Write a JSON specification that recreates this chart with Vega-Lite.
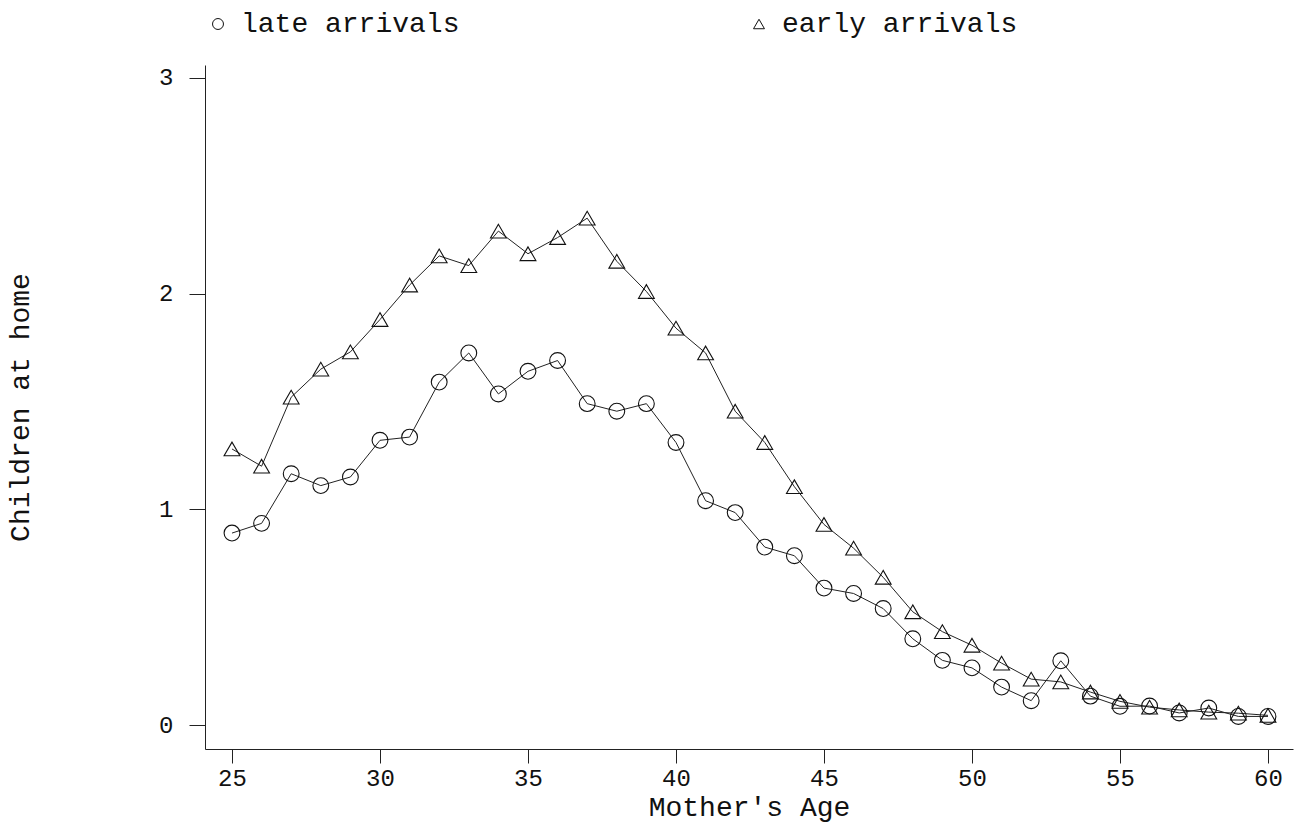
{
  "$schema": "https://vega.github.io/schema/vega-lite/v6.json",
  "autosize": "none",
  "width": 1088,
  "height": 684,
  "padding": {"left": 205, "top": 65, "right": 6, "bottom": 75},
  "background": "white",
  "config": {
    "view": {"stroke": null},
    "font": "Liberation Mono",
    "axis": {
      "domainColor": "#222",
      "tickColor": "#222",
      "labelColor": "#111",
      "titleColor": "#111",
      "grid": false,
      "labelFont": "Liberation Mono",
      "titleFont": "Liberation Mono",
      "titleFontWeight": "normal"
    }
  },
  "datasets": {
    "rows": [
      {"age": 25, "series": "early arrivals", "value": 1.28},
      {"age": 26, "series": "early arrivals", "value": 1.20},
      {"age": 27, "series": "early arrivals", "value": 1.52},
      {"age": 28, "series": "early arrivals", "value": 1.65},
      {"age": 29, "series": "early arrivals", "value": 1.73},
      {"age": 30, "series": "early arrivals", "value": 1.88},
      {"age": 31, "series": "early arrivals", "value": 2.04},
      {"age": 32, "series": "early arrivals", "value": 2.175},
      {"age": 33, "series": "early arrivals", "value": 2.13},
      {"age": 34, "series": "early arrivals", "value": 2.29},
      {"age": 35, "series": "early arrivals", "value": 2.185},
      {"age": 36, "series": "early arrivals", "value": 2.26},
      {"age": 37, "series": "early arrivals", "value": 2.35},
      {"age": 38, "series": "early arrivals", "value": 2.15},
      {"age": 39, "series": "early arrivals", "value": 2.01},
      {"age": 40, "series": "early arrivals", "value": 1.84},
      {"age": 41, "series": "early arrivals", "value": 1.725},
      {"age": 42, "series": "early arrivals", "value": 1.455},
      {"age": 43, "series": "early arrivals", "value": 1.31},
      {"age": 44, "series": "early arrivals", "value": 1.105},
      {"age": 45, "series": "early arrivals", "value": 0.93},
      {"age": 46, "series": "early arrivals", "value": 0.82},
      {"age": 47, "series": "early arrivals", "value": 0.685},
      {"age": 48, "series": "early arrivals", "value": 0.525},
      {"age": 49, "series": "early arrivals", "value": 0.433},
      {"age": 50, "series": "early arrivals", "value": 0.37},
      {"age": 51, "series": "early arrivals", "value": 0.287},
      {"age": 52, "series": "early arrivals", "value": 0.213},
      {"age": 53, "series": "early arrivals", "value": 0.2},
      {"age": 54, "series": "early arrivals", "value": 0.153},
      {"age": 55, "series": "early arrivals", "value": 0.11},
      {"age": 56, "series": "early arrivals", "value": 0.083},
      {"age": 57, "series": "early arrivals", "value": 0.07},
      {"age": 58, "series": "early arrivals", "value": 0.06},
      {"age": 59, "series": "early arrivals", "value": 0.055},
      {"age": 60, "series": "early arrivals", "value": 0.045},
      {"age": 25, "series": "late arrivals", "value": 0.89},
      {"age": 26, "series": "late arrivals", "value": 0.935},
      {"age": 27, "series": "late arrivals", "value": 1.165},
      {"age": 28, "series": "late arrivals", "value": 1.11},
      {"age": 29, "series": "late arrivals", "value": 1.15},
      {"age": 30, "series": "late arrivals", "value": 1.32},
      {"age": 31, "series": "late arrivals", "value": 1.335},
      {"age": 32, "series": "late arrivals", "value": 1.59},
      {"age": 33, "series": "late arrivals", "value": 1.725},
      {"age": 34, "series": "late arrivals", "value": 1.535},
      {"age": 35, "series": "late arrivals", "value": 1.64},
      {"age": 36, "series": "late arrivals", "value": 1.69},
      {"age": 37, "series": "late arrivals", "value": 1.49},
      {"age": 38, "series": "late arrivals", "value": 1.455},
      {"age": 39, "series": "late arrivals", "value": 1.49},
      {"age": 40, "series": "late arrivals", "value": 1.31},
      {"age": 41, "series": "late arrivals", "value": 1.04},
      {"age": 42, "series": "late arrivals", "value": 0.985},
      {"age": 43, "series": "late arrivals", "value": 0.825},
      {"age": 44, "series": "late arrivals", "value": 0.785},
      {"age": 45, "series": "late arrivals", "value": 0.635},
      {"age": 46, "series": "late arrivals", "value": 0.61},
      {"age": 47, "series": "late arrivals", "value": 0.54},
      {"age": 48, "series": "late arrivals", "value": 0.40},
      {"age": 49, "series": "late arrivals", "value": 0.30},
      {"age": 50, "series": "late arrivals", "value": 0.265},
      {"age": 51, "series": "late arrivals", "value": 0.176},
      {"age": 52, "series": "late arrivals", "value": 0.113},
      {"age": 53, "series": "late arrivals", "value": 0.298},
      {"age": 54, "series": "late arrivals", "value": 0.134},
      {"age": 55, "series": "late arrivals", "value": 0.087},
      {"age": 56, "series": "late arrivals", "value": 0.088},
      {"age": 57, "series": "late arrivals", "value": 0.056},
      {"age": 58, "series": "late arrivals", "value": 0.079},
      {"age": 59, "series": "late arrivals", "value": 0.04},
      {"age": 60, "series": "late arrivals", "value": 0.04}
    ]
  },
  "data": {"name": "rows"},
  "encoding": {
    "x": {
      "field": "age",
      "type": "quantitative",
      "scale": {"domain": [24.088, 60.845], "nice": false, "zero": false},
      "axis": {
        "title": "Mother's Age",
        "values": [25, 30, 35, 40, 45, 50, 55, 60],
        "tickSize": 14,
        "labelPadding": 3,
        "labelFontSize": 24,
        "titleFontSize": 28,
        "titlePadding": 3
      }
    },
    "y": {
      "field": "value",
      "type": "quantitative",
      "scale": {"domain": [-0.111, 3.06], "nice": false, "zero": false},
      "axis": {
        "title": "Children at home",
        "values": [0, 1, 2, 3],
        "tickSize": 16,
        "labelPadding": 16,
        "labelFontSize": 24,
        "titleFontSize": 28,
        "titlePadding": 124
      }
    }
  },
  "layer": [
    {
      "mark": {"type": "line", "color": "#222", "strokeWidth": 1},
      "encoding": {"detail": {"field": "series"}}
    },
    {
      "mark": {"type": "point", "filled": false, "color": "#111", "strokeWidth": 1.1, "size": 250, "opacity": 1},
      "encoding": {
        "shape": {
          "field": "series",
          "type": "nominal",
          "scale": {"domain": ["late arrivals", "early arrivals"], "range": ["circle", "triangle-up"]},
          "legend": {
            "title": null,
            "orient": "none",
            "legendX": -1,
            "legendY": -55,
            "direction": "horizontal",
            "columnPadding": 285,
            "symbolSize": 120,
            "symbolStrokeWidth": 1,
            "symbolStrokeColor": "#111",
            "labelFont": "Liberation Mono",
            "labelFontSize": 28,
            "labelColor": "#111",
            "labelOffset": 9,
            "labelLimit": 0
          }
        }
      }
    }
  ]
}
